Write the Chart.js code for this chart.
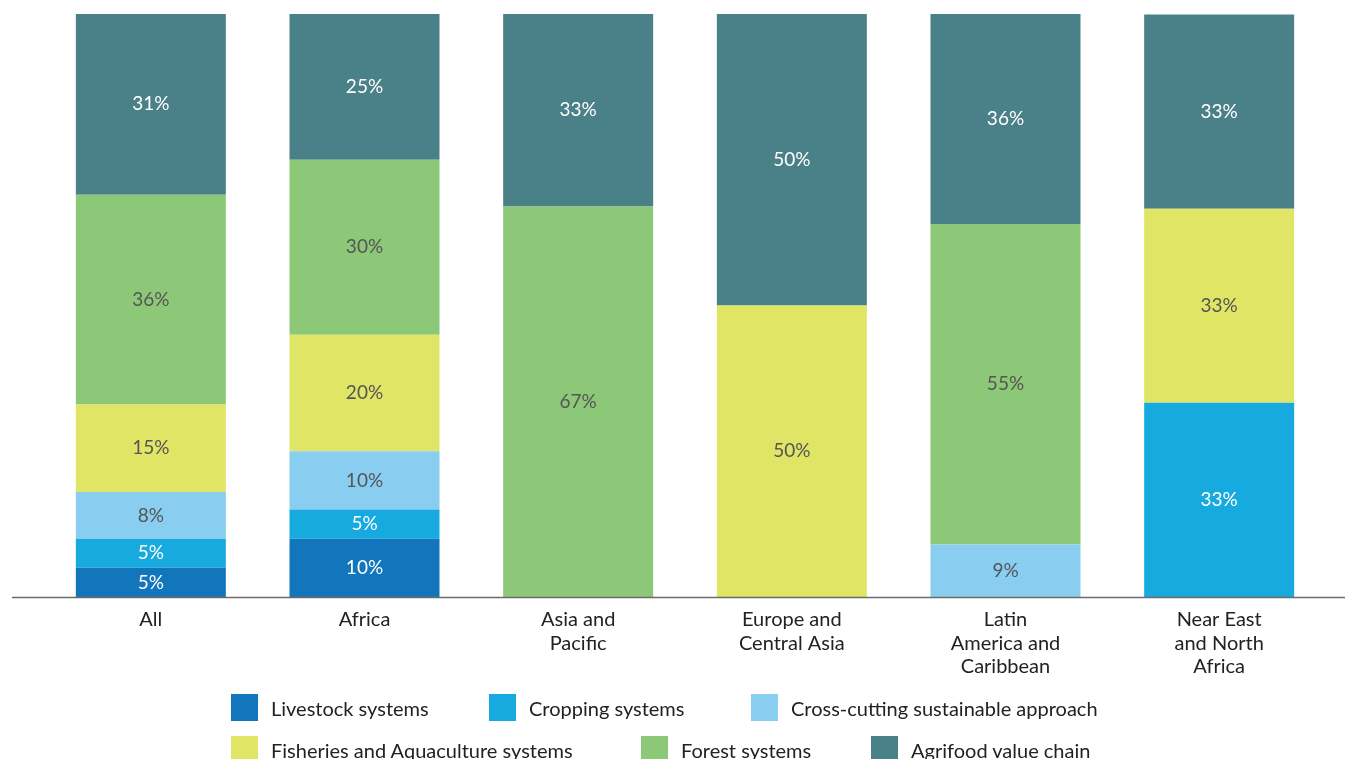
<!DOCTYPE html>
<html>
<head>
<meta charset="utf-8">
<script src="https://cdn.jsdelivr.net/npm/chart.js@4.4.1/dist/chart.umd.min.js"></script>
<style>
  html, body { margin: 0; padding: 0; background: #fff; }
  #wrap { position: relative; width: 1345px; height: 759px; overflow: hidden; }
  #c { position: absolute; left: 0; top: 0; }
  .lg { position: absolute; display: flex; align-items: center; font-family: Lato, "Open Sans", sans-serif; font-size: 20px; color: #222; white-space: nowrap; }
  .lg i { display: inline-block; width: 27px; height: 27px; margin-right: 13px; }
</style>
</head>
<body>
<div id="wrap">
  <canvas id="c" width="1345" height="759"></canvas>
  <div id="legend"></div>
</div>
<script>
const categories = [
  "All",
  "Africa",
  ["Asia and", "Pacific"],
  ["Europe and", "Central Asia"],
  ["Latin", "America and", "Caribbean"],
  ["Near East", "and North", "Africa"]
];
const seriesNames = [
  "Livestock systems",
  "Cropping systems",
  "Cross-cutting sustainable approach",
  "Fisheries and Aquaculture systems",
  "Forest systems",
  "Agrifood value chain"
];
const livestock    = [5, 10, 0, 0, 0, 0];
const cropping     = [5, 5, 0, 0, 0, 33.3];
const crossCutting = [8, 10, 0, 0, 9, 0];
const fisheries    = [15, 20, 0, 50, 0, 33.3];
const forest       = [36, 30, 67, 0, 55, 0];
const agrifood     = [31, 25, 33, 50, 36, 33.3];

const colors = ["#1276bc", "#17aadf", "#89cef0", "#e0e566", "#8cc878", "#4a8088"];
const labelColors = ["#ffffff", "#ffffff", "#555555", "#555555", "#555555", "#ffffff"];
const seriesValues = [livestock, cropping, crossCutting, fisheries, forest, agrifood];

// legend positions (layout only)
const legendPos = [[231, 694], [489, 694], [751, 694], [231, 736], [641, 736], [871, 736]];
const legendEl = document.getElementById('legend');
seriesNames.forEach((n, i) => {
  const d = document.createElement('div');
  d.className = 'lg';
  d.style.left = legendPos[i][0] + 'px';
  d.style.top = legendPos[i][1] + 'px';
  d.innerHTML = '<i style="background:' + colors[i] + '"></i><span></span>';
  d.querySelector('span').textContent = n;
  legendEl.appendChild(d);
});

const FONT = "Lato, 'Open Sans', sans-serif";

const segLabels = {
  id: 'segLabels',
  afterDatasetsDraw(chart) {
    const ctx = chart.ctx;
    ctx.save();
    ctx.font = "19px " + FONT;
    ctx.textAlign = 'center';
    ctx.textBaseline = 'middle';
    chart.data.datasets.forEach((ds, di) => {
      const meta = chart.getDatasetMeta(di);
      meta.data.forEach((bar, i) => {
        const v = ds.data[i];
        if (!v) return;
        const p = bar.getProps(['x', 'y', 'base'], true);
        ctx.fillStyle = labelColors[di];
        ctx.fillText(Math.round(v) + '%', p.x, (p.y + p.base) / 2);
      });
    });
    ctx.restore();
  }
};

const baseLine = {
  id: 'baseLine',
  afterDatasetsDraw(chart) {
    const y = chart.scales.y.getPixelForValue(0);
    const ctx = chart.ctx;
    ctx.save();
    ctx.strokeStyle = '#6b6b6b';
    ctx.lineWidth = 1.5;
    ctx.beginPath();
    ctx.moveTo(12, y + 0.5);
    ctx.lineTo(chart.width, y + 0.5);
    ctx.stroke();
    ctx.restore();
  }
};

new Chart(document.getElementById('c'), {
  type: 'bar',
  data: {
    labels: categories,
    datasets: seriesNames.map((n, i) => ({
      label: n,
      data: seriesValues[i],
      backgroundColor: colors[i],
      borderWidth: 0,
      barPercentage: 0.702,
      categoryPercentage: 1
    }))
  },
  options: {
    responsive: false,
    animation: false,
    layout: { padding: { left: 44, right: 19, top: 14, bottom: 0 } },
    plugins: { legend: { display: false }, tooltip: { enabled: false } },
    scales: {
      x: {
        stacked: true,
        grid: { display: false, drawTicks: false },
        border: { display: false },
        ticks: { color: '#222', font: { family: FONT, size: 20, lineHeight: 1.17 }, padding: 11, maxRotation: 0, autoSkip: false },
        afterFit(s) { s.height = 162; }
      },
      y: {
        stacked: true,
        display: false,
        min: 0,
        max: 100
      }
    }
  },
  plugins: [segLabels, baseLine]
});
</script>
</body>
</html>
